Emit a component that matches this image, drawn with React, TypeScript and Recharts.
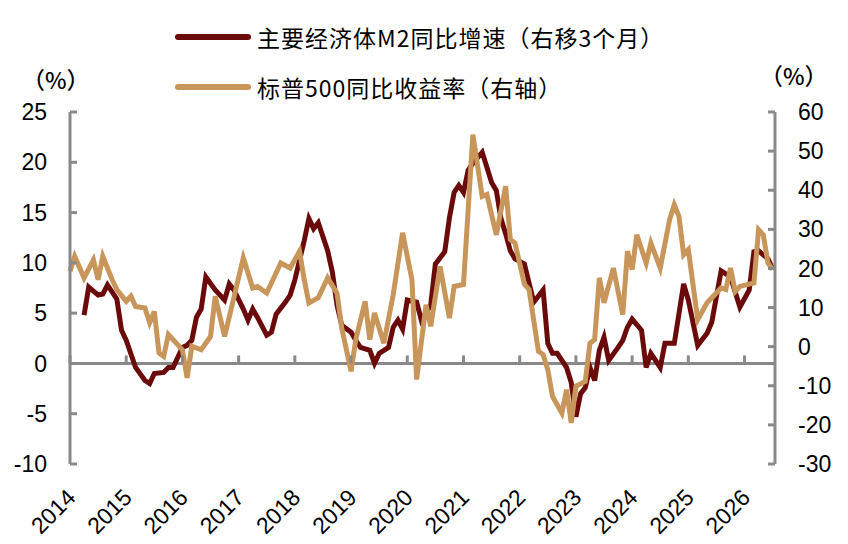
import { LineChart, Line, XAxis, YAxis, ReferenceLine } from "recharts";

// months counted from Jan 2014
const START_YEAR = 2014;
const yearTicks = [0, 12, 24, 36, 48, 60, 72, 84, 96, 108, 120, 132, 144];
const leftTicks = [-10, -5, 0, 5, 10, 15, 20, 25];
const rightTicks = [-30, -20, -10, 0, 10, 20, 30, 40, 50, 60];

// 主要经济体M2同比增速（右移3个月）, %
const m2Month = [3, 4, 6, 7, 8, 10, 11, 12, 14, 16, 17, 18, 20, 21, 22, 24, 25, 26, 27, 28, 29, 31, 33, 34, 35, 37, 38, 39, 40, 42, 43, 44, 46, 47, 48, 50, 51, 52, 53, 55, 56, 57, 58, 60, 61, 62, 64, 65, 66, 68, 69, 70, 71, 72, 74, 75, 77, 78, 80, 81, 82, 83, 84, 85, 86, 88, 90, 91, 92, 93, 94, 95, 97, 98, 99, 101, 102, 103, 104, 106, 107, 108, 109, 110, 111, 112, 113, 114, 115, 117, 118, 119, 120, 122, 123, 124, 126, 127, 129, 131, 132, 134, 136, 137, 139, 141, 143, 145, 146, 147, 149, 150];
const m2Growth = [4.8, 7.6, 6.8, 6.9, 7.8, 6.4, 3.3, 2.3, -0.4, -1.7, -2.0, -1.0, -0.9, -0.4, -0.4, 1.6, 1.8, 2.3, 4.6, 5.4, 8.6, 7.3, 6.3, 7.9, 7.3, 5.4, 4.3, 5.4, 4.6, 2.8, 3.1, 4.9, 6.1, 6.8, 8.3, 12.2, 14.4, 13.4, 14.0, 11.2, 9.1, 5.8, 3.8, 3.1, 2.3, 1.6, 1.3, 0, 1.0, 1.6, 3.6, 4.3, 3.4, 6.3, 6.1, 4.3, 5.8, 9.9, 11.1, 14.5, 17.0, 17.7, 17.0, 19.2, 19.9, 21.0, 18.0, 17.2, 14.4, 12.9, 11.2, 10.4, 9.9, 8.0, 6.1, 7.3, 2.0, 1.0, 1.0, -0.4, -1.9, -5.3, -3.0, -2.4, -0.4, -1.7, 1.3, 2.6, 0.3, 1.6, 2.3, 3.6, 4.4, 3.3, -0.4, 1.0, -0.4, 2.0, 2.0, 7.9, 6.3, 1.8, 3.0, 4.1, 9.2, 8.6, 5.6, 7.3, 11.1, 11.2, 10.4, 9.4];

// 标普500同比收益率（右轴）, %
const spxMonth = [0, 1, 3, 5, 6, 7, 9, 10, 12, 13, 14, 16, 17, 18, 19, 20, 21, 24, 25, 26, 28, 30, 31, 33, 37, 39, 40, 42, 45, 47, 49, 50, 51, 53, 55, 57, 58, 60, 61, 63, 64, 65, 67, 69, 71, 73, 74, 76, 77, 79, 81, 82, 84, 86, 88, 89, 91, 93, 94, 95, 97, 98, 100, 101, 102, 103, 105, 106, 107, 108, 110, 111, 112, 113, 114, 116, 118, 119, 120, 121, 123, 124, 126, 128, 129, 130, 131, 132, 134, 136, 139, 140, 141, 142, 143, 146, 147, 148, 149, 150];
const spxReturn = [19.3, 23.1, 17.6, 22.2, 17.1, 23.1, 17.1, 14.6, 11.6, 12.9, 10.3, 9.9, 6.1, 9.0, -1.6, -2.5, 3.1, -0.8, -8.0, 0.1, -0.8, 2.6, 12.9, 2.6, 22.7, 15.0, 15.4, 13.7, 21.4, 20.1, 24.4, 17.1, 11.2, 12.5, 17.6, 13.7, 4.8, -6.3, 1.8, 11.6, 1.8, 8.6, 0.9, 13.3, 29.1, 17.1, -8.4, 10.7, 5.2, 20.5, 7.3, 15.4, 15.9, 54.2, 38.4, 38.9, 28.6, 41.0, 27.4, 26.5, 16.0, 14.6, -1.2, -2.0, -5.9, -12.7, -17.0, -11.0, -19.5, -10.1, -8.9, 0.9, 1.8, 17.6, 11.2, 20.1, 8.2, 24.4, 19.7, 28.6, 21.4, 26.5, 20.1, 32.5, 36.3, 33.3, 23.5, 24.8, 6.9, 11.2, 15.0, 14.6, 20.1, 14.1, 15.4, 16.3, 29.9, 28.6, 21.4, 19.7];

const m2Data = m2Month.map((m, i) => ({ m, v: m2Growth[i] }));
const spxData = spxMonth.map((m, i) => ({ m, v: spxReturn[i] }));

const M2_COLOR = "#6B0A0A";
const SPX_COLOR = "#C8965A";
const AXIS = "#898989";
const FONT = "'Liberation Sans', Arial, 'Noto Sans CJK SC', sans-serif";
const CJK = "'Noto Sans CJK SC', 'Liberation Sans', sans-serif";
const PLOT_H = 352;

function YearTick(props: any) {
    const { x, y, payload } = props;
    const zeroY = y - PLOT_H * 10 / 35;
    const tx = x + 7;
    const ty = y + 35;
    return <g>
        <line x1={x} x2={x} y1={zeroY} y2={zeroY - 8} stroke={AXIS} strokeWidth={3}/>
        <text x={tx} y={ty} transform={`rotate(-45 ${tx} ${ty})`} textAnchor="end"
              fontSize={23} fontFamily={FONT} fill="#000">{START_YEAR + payload.value / 12}</text>
    </g>
}

function LegendRow({color, label, top}: { color: string, label: string, top: number }) {
    return <div style={{position: "absolute", left: 175, top, display: "flex", alignItems: "center"}}>
        <div style={{width: 76, height: 6, borderRadius: 3, background: color}}/>
        <span style={{marginLeft: 6, fontSize: 23, letterSpacing: 1, fontFamily: CJK, color: "#000", whiteSpace: "nowrap"}}>{label}</span>
    </div>
}

export default function App() {
    return <div style={{position: "absolute", left: 0, top: 0, width: 848, height: 544, background: "#fff"}}>
        <LineChart width={848} height={544} margin={{top: 112, right: 0, bottom: 0, left: 0}}>
            <XAxis type="number" dataKey="m" domain={[0, 150.5]} ticks={yearTicks} interval={0}
                   axisLine={false} tickLine={false} tickSize={0} tickMargin={0} height={80}
                   tick={<YearTick/>}/>
            <YAxis yAxisId="left" orientation="left" domain={[-10, 25]} ticks={leftTicks} interval={0}
                   width={70} axisLine={{stroke: AXIS, strokeWidth: 3}}
                   tickLine={{stroke: AXIS, strokeWidth: 3}} tickSize={-7} tickMargin={30}
                   tick={{fontSize: 23, fontFamily: FONT, fill: "#000"}}/>
            <YAxis yAxisId="right" orientation="right" domain={[-30, 60]} ticks={rightTicks} interval={0}
                   width={73} axisLine={{stroke: AXIS, strokeWidth: 3}}
                   tickLine={{stroke: AXIS, strokeWidth: 3}} tickSize={-7} tickMargin={30}
                   tick={{fontSize: 23, fontFamily: FONT, fill: "#000"}}/>
            <ReferenceLine yAxisId="left" y={0} stroke={AXIS} strokeWidth={3}/>
            <Line yAxisId="left" data={m2Data} dataKey="v" type="linear" stroke={M2_COLOR}
                  strokeWidth={5} dot={false} activeDot={false} isAnimationActive={false}/>
            <Line yAxisId="right" data={spxData} dataKey="v" type="linear" stroke={SPX_COLOR}
                  strokeWidth={5} dot={false} activeDot={false} isAnimationActive={false}/>
        </LineChart>
        <LegendRow color={M2_COLOR} label="主要经济体M2同比增速（右移3个月）" top={20}/>
        <LegendRow color={SPX_COLOR} label="标普500同比收益率（右轴）" top={70}/>
        <div style={{position: "absolute", left: 22, top: 62, fontSize: 23, fontWeight: 500, fontFamily: CJK, color: "#000"}}>（%）</div>
        <div style={{position: "absolute", left: 760, top: 58, fontSize: 23, fontWeight: 500, fontFamily: CJK, color: "#000"}}>（%）</div>
    </div>
}
